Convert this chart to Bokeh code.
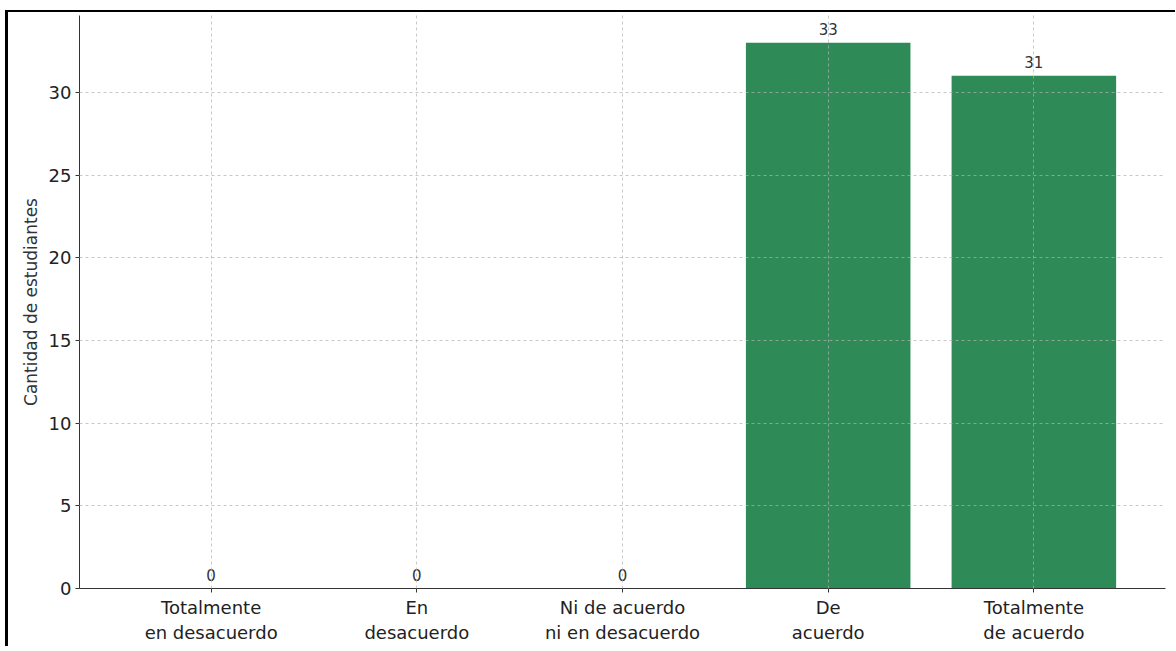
from bokeh.plotting import figure
from bokeh.models import ColumnDataSource, FixedTicker, Range1d
from bokeh.core.properties import value
from bokeh.embed import file_html
from bokeh.resources import INLINE

categories = ["Totalmente\nen desacuerdo", "En\ndesacuerdo", "Ni de acuerdo\nni en desacuerdo", "De\nacuerdo", "Totalmente\nde acuerdo"]
counts = [0, 0, 0, 33, 31]
y_ticks = [0, 5, 10, 15, 20, 25, 30]

xs = list(range(len(categories)))
src = ColumnDataSource(dict(x=xs, top=counts, label=[str(c) for c in counts]))

FONT = "DejaVu Sans"

p = figure(frame_width=1086, frame_height=573, output_backend="svg", toolbar_location=None,
           x_range=Range1d(-0.64, len(categories) - 1 + 0.64), y_range=Range1d(0, max(counts) * 1.05),
           min_border_left=71, min_border_top=3, min_border_right=10, min_border_bottom=58)
p.styles = {"border-left": "3px solid black", "border-top": "2px solid black",
            "margin-left": "5px", "margin-top": "10px"}
p.outline_line_color = None

p.vbar(x="x", top="top", width=0.8, source=src, fill_color="#2e8b57", line_color=None)
p.text(x="x", y="top", text="label", source=src, text_align="center", text_baseline="bottom",
       y_offset=-8, text_font=value(FONT), text_font_size="15px", text_color="#333333")

p.xaxis.ticker = FixedTicker(ticks=xs)
p.xaxis.major_label_overrides = {i: c for i, c in enumerate(categories)}
p.yaxis.ticker = FixedTicker(ticks=y_ticks)
p.yaxis.axis_label = "Cantidad de estudiantes"

for ax in (p.xaxis[0], p.yaxis[0]):
    ax.major_label_text_font = FONT
    ax.major_label_text_color = "#222222"
    ax.axis_line_color = "#333333"
    ax.major_tick_line_color = "#333333"
    ax.major_tick_in = 0
    ax.major_tick_out = 4
    ax.minor_tick_line_color = None
    ax.major_label_standoff = 4
p.xaxis.major_label_text_font_size = "18px"
p.yaxis.major_label_text_font_size = "18px"
p.yaxis.axis_label_text_font = FONT
p.yaxis.axis_label_text_font_style = "normal"
p.yaxis.axis_label_text_font_size = "17px"
p.yaxis.axis_label_text_color = "#333333"
p.yaxis.axis_label_standoff = 5

p.grid.grid_line_color = "#b0b0b0"
p.grid.grid_line_alpha = 0.7
p.grid.grid_line_dash = "3 3"
p.grid.grid_line_width = 1
p.grid.level = "overlay"
p.xgrid.ticker = FixedTicker(ticks=xs)
p.ygrid.ticker = FixedTicker(ticks=y_ticks)

open("out.html", "w").write(file_html(p, INLINE))
